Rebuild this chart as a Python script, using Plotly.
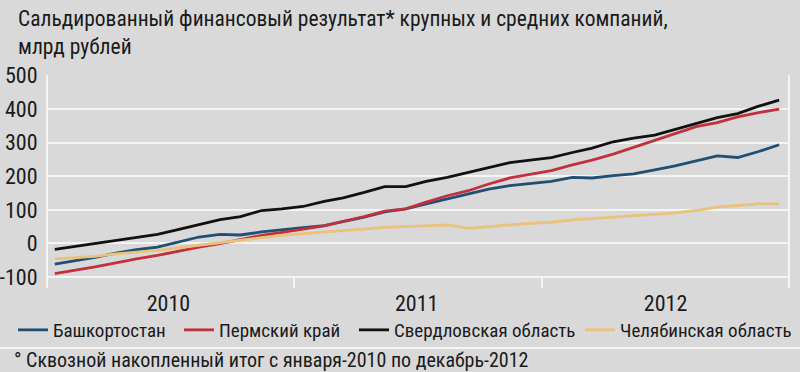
import plotly.graph_objects as go

# Months Jan-2010 .. Dec-2012 (plotted at mid-month)
months = [f"{y}-{m:02d}-15" for y in (2010, 2011, 2012) for m in range(1, 13)]

bashkortostan = [-62, -52, -42, -29, -19, -11, 4, 19, 27, 25, 34, 41,
                 47, 53, 64, 78, 94, 103, 118, 133, 147, 162, 172, 179,
                 185, 197, 195, 202, 207, 219, 231, 246, 261, 256, 274, 294]
perm = [-90, -80, -70, -58, -46, -36, -23, -11, -1, 11, 24, 33,
        43, 52, 66, 80, 96, 103, 123, 142, 157, 177, 195, 205,
        217, 234, 248, 266, 286, 306, 325, 348, 360, 377, 390, 400]
sverdlovsk = [-18, -9, 0, 9, 19, 27, 41, 56, 71, 80, 98, 103,
              110, 125, 136, 152, 169, 169, 185, 197, 212, 226, 241, 248,
              256, 271, 284, 303, 314, 323, 340, 357, 375, 387, 409, 427]
chelyabinsk = [-46, -42, -39, -31, -27, -21, -13, -6, 2, 9, 17, 24,
               29, 34, 39, 43, 48, 50, 53, 55, 45, 50, 56, 60,
               63, 70, 74, 78, 82, 86, 91, 98, 108, 113, 118, 118]

series_names = ["Башкортостан", "Пермский край", "Свердловская область", "Челябинская область"]
series_values = [bashkortostan, perm, sverdlovsk, chelyabinsk]
series_colors = ["#1f4f72", "#c2303e", "#111111", "#e9c27c"]

year_tick_vals = ["2010-07-01", "2011-07-01", "2012-07-01"]
year_tick_text = ["2010", "2011", "2012"]
year_sep_vals = ["2011-01-01", "2012-01-01"]
y_tick_vals = [-100, 0, 100, 200, 300, 400, 500]
y_tick_text = ["-100", "0", "100", "200", "300", "400", "500"]

title_text = "Сальдированный финансовый результат* крупных и средних компаний,<br>млрд рублей"
footnote = "° Сквозной накопленный итог с января-2010 по декабрь-2012"

FONT = "Roboto Condensed, DejaVu Sans Condensed, sans-serif"
BG = "#d9d9d9"
TXT = "#1a1a1a"
GRID = "#f4f4f4"

# plot-area geometry in pixels (for converting the layout positions to paper units)
L, R, T, B = 48, 788, 75, 288
PW, PH = R - L, B - T


def px_x(px):
    return (px - L) / PW


def px_y(py):
    return (B - py) / PH


fig = go.Figure()
legend_px = [13, 179, 354, 580]
for i, (name, vals, col) in enumerate(zip(series_names, series_values, series_colors)):
    lg = "legend" if i == 0 else f"legend{i+1}"
    fig.add_trace(go.Scatter(x=months, y=vals, name=name, mode="lines",
                             line=dict(color=col, width=2.8), legend=lg))

layout_legends = {}
for i, lx in enumerate(legend_px):
    key = "legend" if i == 0 else f"legend{i+1}"
    layout_legends[key] = dict(orientation="h", x=px_x(lx), xanchor="left",
                               y=px_y(330), yanchor="middle", bgcolor="rgba(0,0,0,0)",
                               borderwidth=0,
                               font=dict(family=FONT, size=19, color=TXT))

fig.update_layout(
    width=800, height=372,
    margin=dict(l=L, r=800 - R, t=T, b=372 - B, autoexpand=False),
    paper_bgcolor=BG, plot_bgcolor=BG,
    font=dict(family=FONT, size=22, color=TXT),
    showlegend=True,
    **layout_legends,
)

fig.update_xaxes(
    range=["2010-01-05", "2012-12-28"],
    tickmode="array", tickvals=year_tick_vals, ticktext=year_tick_text,
    ticks="", showgrid=False, zeroline=False, showline=False,
    ticklabelstandoff=0,
    minor=dict(tickmode="array", tickvals=year_sep_vals, ticks="inside",
               ticklen=11, tickwidth=2, tickcolor=GRID, showgrid=False),
    tickfont=dict(family=FONT, size=22, color=TXT),
)
fig.update_yaxes(
    range=[-133, 502],
    tickmode="array", tickvals=y_tick_vals, ticktext=y_tick_text,
    showgrid=True, gridcolor=GRID, gridwidth=2,
    zeroline=False, showline=True, linecolor=GRID, linewidth=2, mirror=True,
    ticks="", ticklabelstandoff=4,
    tickfont=dict(family=FONT, size=22, color=TXT),
)

fig.add_annotation(text=title_text, xref="paper", yref="paper",
                   x=px_x(16), y=px_y(4), xanchor="left", yanchor="top", align="left",
                   showarrow=False, font=dict(family=FONT, size=21.5, color=TXT))
fig.add_shape(type="line", xref="paper", yref="paper",
              x0=px_x(0), x1=px_x(800), y0=px_y(348), y1=px_y(348),
              line=dict(color=GRID, width=2))
fig.add_annotation(text=footnote, xref="paper", yref="paper",
                   x=px_x(12), y=px_y(360), xanchor="left", yanchor="middle",
                   showarrow=False, font=dict(family=FONT, size=20, color=TXT))

fig.write_html("out.html",
               config={"displayModeBar": False},
               post_script="document.body.style.margin='0';"
                           "document.body.style.background='#d9d9d9';")
